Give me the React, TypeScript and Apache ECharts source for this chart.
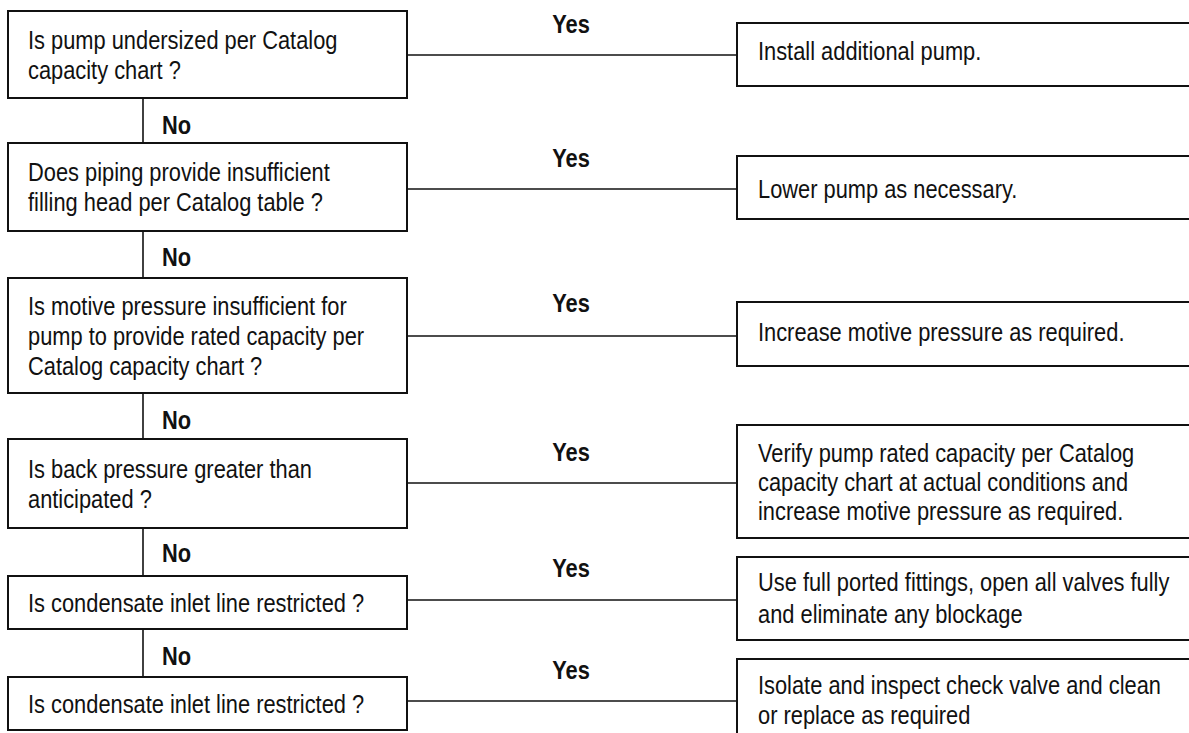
import React, { useEffect, useRef } from "react";
import * as echarts from "echarts";

// ---- content ----
const questions: string[][] = [
  ["Is pump undersized per Catalog", "capacity chart ?"],
  ["Does piping provide insufficient", "filling head per Catalog table ?"],
  ["Is motive pressure insufficient for", "pump to provide rated capacity per", "Catalog capacity chart ?"],
  ["Is back pressure greater than", "anticipated ?"],
  ["Is condensate inlet line restricted ?"],
  ["Is condensate inlet line restricted ?"],
];
const actions: string[][] = [
  ["Install additional pump."],
  ["Lower pump as necessary."],
  ["Increase motive pressure as required."],
  ["Verify pump rated capacity per Catalog", "capacity chart at actual conditions and", "increase motive pressure as required."],
  ["Use full ported fittings, open all valves fully", "and eliminate any blockage"],
  ["Isolate and inspect check valve and clean", "or replace as required"],
];
const yesLabels: string[] = ["Yes", "Yes", "Yes", "Yes", "Yes", "Yes"];
const noLabels: string[] = ["No", "No", "No", "No", "No"];

// ---- layout (pixel space of the hidden axes) ----
const Q_LEFT = 8;
const Q_RIGHT = 407;
const A_LEFT = 737;
const A_RIGHT = 1197;
const STEM_X = 143;
const NO_X = 162;
const YES_X = 571;
const Q_TEXT_X = 28;
const A_TEXT_X = 758;
const LINE_GAP = 30;
const qTop = [11, 143, 278, 439, 576, 677];
const qBottom = [98, 231, 393, 528, 629, 730];
const aTop = [23, 156, 302, 425, 557, 659];
const aBottom = [86, 219, 366, 538, 640, 770];
const linkY = [55, 189, 336, 483, 600, 701];
const yesY = [24, 158, 303, 452, 568, 670];
const noY = [125, 257, 420, 553, 656];
const aTextY = [51, 189, 332, 453, 582, 685];
const aLineGap = [30, 30, 30, 29, 32, 30];

const FONT = "'Liberation Sans', Arial, Helvetica, sans-serif";
const INK = "#111";
const SX = 0.84;

export default function App() {
  const ref = useRef<HTMLDivElement>(null);
  useEffect(() => {
    if (!ref.current) return;
    const chart = echarts.init(ref.current, undefined, { renderer: "svg" });

    const txt = (x: number, y: number, text: string, bold = false, align = "left") => ({
      type: "text",
      x,
      y,
      scaleX: SX,
      style: {
        text,
        x: 0,
        y: 0,
        fill: INK,
        fontSize: 26,
        fontFamily: FONT,
        fontWeight: bold ? "bold" : "normal",
        align,
        verticalAlign: "middle",
      },
    });

    const renderItem = (params: any, api: any) => {
      const i = api.value(0) as number;
      const c = (x: number, y: number) => api.coord([x, y]);
      const children: any[] = [];
      const q0 = c(Q_LEFT, qTop[i]);
      const q1 = c(Q_RIGHT, qBottom[i]);
      children.push({
        type: "rect",
        shape: { x: q0[0], y: q0[1], width: q1[0] - q0[0], height: q1[1] - q0[1] },
        style: { fill: "#fff", stroke: INK, lineWidth: 2 },
      });
      const lines = questions[i];
      const qMid = (qTop[i] + qBottom[i]) / 2;
      lines.forEach((s, k) => {
        const yy = qMid + (k - (lines.length - 1) / 2) * LINE_GAP;
        const p = c(Q_TEXT_X, yy);
        children.push(txt(p[0], p[1], s));
      });
      // yes connector
      const l0 = c(Q_RIGHT, linkY[i]);
      const l1 = c(A_LEFT, linkY[i]);
      children.push({
        type: "line",
        shape: { x1: l0[0], y1: l0[1], x2: l1[0], y2: l1[1] },
        style: { stroke: INK, lineWidth: 1.6 },
      });
      const yp = c(YES_X, yesY[i]);
      children.push(txt(yp[0], yp[1], yesLabels[i], true, "center"));
      // action box
      const a0 = c(A_LEFT, aTop[i]);
      const a1 = c(A_RIGHT, aBottom[i]);
      children.push({
        type: "rect",
        shape: { x: a0[0], y: a0[1], width: a1[0] - a0[0], height: a1[1] - a0[1] },
        style: { fill: "#fff", stroke: INK, lineWidth: 2 },
      });
      actions[i].forEach((s, k) => {
        const p = c(A_TEXT_X, aTextY[i] + k * aLineGap[i]);
        children.push(txt(p[0], p[1], s));
      });
      // no connector to next question
      if (i < noLabels.length) {
        const s0 = c(STEM_X, qBottom[i]);
        const s1 = c(STEM_X, qTop[i + 1]);
        children.push({
          type: "line",
          shape: { x1: s0[0], y1: s0[1], x2: s1[0], y2: s1[1] },
          style: { stroke: INK, lineWidth: 1.6 },
        });
        const np = c(NO_X, noY[i]);
        children.push(txt(np[0], np[1], noLabels[i], true, "left"));
      }
      return { type: "group", children };
    };

    chart.setOption({
      animation: false,
      backgroundColor: "#fff",
      grid: { left: 0, right: 0, top: 0, bottom: 0 },
      xAxis: { type: "value", min: 0, max: 1189, show: false },
      yAxis: { type: "value", min: 0, max: 733, inverse: true, show: false },
      series: [
        {
          type: "custom",
          coordinateSystem: "cartesian2d",
          renderItem,
          clip: false,
          data: questions.map((_, i) => [i]),
        },
      ],
    });
    return () => chart.dispose();
  }, []);
  return (
    <div
      ref={ref}
      style={{ position: "fixed", left: 0, top: 0, width: 1189, height: 733, background: "#fff" }}
    />
  );
}
